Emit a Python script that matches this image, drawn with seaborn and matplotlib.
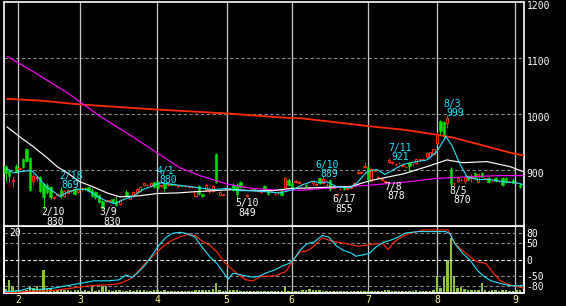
import matplotlib
matplotlib.use("Agg")
import matplotlib.pyplot as plt
import matplotlib.transforms as mtransforms
import numpy as np
import pandas as pd
import seaborn as sns

# ---------------- data ----------------
opens = [907, 899, 881, 908, 902, 919, 937, 922, 880, 885,
         887, 875, 873, 869, 850, 856, 865, 853, 859, 863,
         866, 861, 866, 867, 869, 865, 860, 856, 844, 844,
         845, 848, 844, 840, 848, 861, 849, 854, 860, 863,
         874, 873, 872, 878, 878, 871, 875, 874, 875, 873,
         872, 872, 871, 870, 869, 854, 871, 857, 865, 863,
         862, 929, 855, 855, 866, 868, 874, 874, 878, 869,
         854, 866, 866, 862, 861, 872, 865, 862, 857, 860,
         862, 869, 883, 877, 879, 877, 875, 874, 868, 876,
         874, 885, 877, 873, 882, 868, 856, 866, 867, 866,
         868, 873, 895, 895, 905, 905, 881, 899, 886, 883,
         879, 915, 913, 910, 912, 908, 905, 913, 910, 912,
         918, 919, 924, 925, 928, 949, 987, 985, 984, 902,
         876, 881, 882, 880, 890, 886, 894, 878, 894, 884,
         886, 880, 886, 880, 886, 885, 879, 883, 877, 874]
highs = [909, 901, 889, 910, 905, 921, 939, 924, 893, 890,
         889, 877, 877, 871, 854, 859, 869, 865, 866, 865,
         867, 866, 869, 869, 870, 867, 862, 858, 846, 848,
         847, 849, 853, 848, 850, 865, 852, 863, 868, 871,
         877, 875, 878, 879, 880, 874, 877, 876, 877, 875,
         874, 874, 873, 872, 871, 864, 873, 858, 876, 870,
         873, 931, 862, 858, 868, 870, 876, 876, 880, 871,
         858, 868, 868, 864, 865, 874, 866, 864, 860, 862,
         864, 887, 885, 879, 882, 880, 877, 875, 871, 882,
         877, 886, 889, 876, 884, 871, 858, 868, 869, 868,
         870, 878, 898, 898, 914, 907, 903, 902, 889, 885,
         883, 921, 916, 912, 914, 910, 907, 915, 912, 920,
         920, 921, 932, 933, 938, 967, 989, 987, 999, 906,
         879, 887, 885, 891, 891, 892, 896, 893, 896, 886,
         888, 883, 888, 882, 888, 887, 881, 885, 879, 876]
lows = [880, 879, 869, 895, 900, 903, 914, 863, 873, 881,
        861, 830, 857, 849, 848, 854, 850, 851, 857, 861,
        855, 859, 863, 865, 860, 852, 849, 841, 830, 842,
        843, 841, 835, 838, 847, 852, 848, 852, 857, 861,
        872, 871, 870, 867, 866, 869, 863, 872, 873, 871,
        870, 870, 869, 868, 867, 852, 855, 851, 863, 859,
        860, 876, 853, 854, 864, 866, 863, 849, 867, 867,
        852, 864, 864, 860, 859, 863, 855, 860, 855, 858,
        853, 867, 872, 865, 877, 876, 873, 870, 867, 874,
        873, 875, 875, 872, 863, 867, 855, 864, 865, 864,
        866, 871, 893, 894, 903, 881, 879, 898, 885, 881,
        878, 912, 911, 908, 910, 906, 903, 899, 908, 910,
        916, 917, 922, 923, 926, 947, 965, 957, 975, 870,
        873, 879, 881, 877, 882, 879, 884, 876, 887, 883,
        877, 879, 879, 879, 872, 877, 878, 876, 876, 868]
closes = [895, 890, 882, 897, 904, 905, 916, 865, 890, 888,
          863, 852, 861, 852, 852, 857, 853, 863, 865, 864,
          857, 865, 867, 866, 862, 854, 851, 843, 833, 846,
          845, 843, 837, 846, 849, 854, 851, 861, 866, 869,
          876, 874, 877, 869, 869, 873, 868, 875, 874, 874,
          873, 871, 872, 870, 870, 862, 857, 853, 874, 866,
          871, 878, 860, 857, 867, 867, 865, 857, 869, 870,
          856, 866, 865, 862, 863, 865, 857, 862, 858, 860,
          855, 886, 874, 867, 881, 878, 875, 871, 869, 881,
          875, 877, 884, 874, 866, 869, 857, 866, 866, 867,
          869, 877, 897, 896, 908, 884, 901, 900, 888, 883,
          881, 917, 914, 910, 912, 908, 906, 907, 911, 920,
          919, 920, 931, 932, 937, 965, 969, 960, 992, 875,
          877, 886, 883, 887, 883, 887, 885, 892, 888, 885,
          878, 881, 880, 881, 873, 878, 879, 877, 877, 869]
volumes = [40, 130, 70, 30, 20, 20, 30, 70, 50, 70,
           40, 230, 40, 50, 20, 30, 30, 30, 30, 20,
           30, 30, 20, 30, 20, 70, 20, 30, 70, 70,
           30, 20, 30, 30, 20, 20, 30, 20, 30, 30,
           30, 20, 20, 30, 30, 20, 30, 20, 20, 20,
           20, 20, 20, 20, 20, 30, 30, 30, 30, 30,
           40, 100, 30, 20, 20, 30, 30, 30, 20, 20,
           20, 20, 20, 20, 20, 20, 20, 20, 20, 20,
           20, 70, 20, 20, 20, 20, 30, 30, 40, 30,
           30, 30, 20, 20, 20, 20, 20, 20, 20, 20,
           20, 20, 20, 20, 20, 20, 20, 20, 20, 20,
           30, 30, 20, 20, 20, 20, 20, 20, 20, 30,
           20, 20, 20, 20, 30, 170, 50, 170, 330, 550,
           170, 50, 60, 40, 30, 30, 30, 30, 100, 30,
           20, 30, 30, 20, 30, 30, 20, 20, 30, 30]

ma_short_pos = [0.37, 2.11, 4.14, 7.04, 7.9, 9.93, 11.96, 13.7, 15.7, 17.8,
                20.7, 23.6, 26.5, 29.4, 31.7, 34.0, 36.9, 39.8, 42.7, 44.7,
                47.6, 51.4, 56.3, 60.1, 64.1, 67.9, 71.7, 75.7, 79.5, 83.3,
                86.2, 89.1, 91.1, 93.1, 96.0, 99.8, 101.8, 104.7, 107.6, 109.9,
                111.4, 115.1, 119.2, 122.1, 125.0, 127.6, 129.4, 131.7, 133.7, 136.6,
                140.4, 144.1, 148.2, 149.9]
ma_short_val = [902, 895, 897, 899, 897, 883, 869, 862, 853, 860,
                866, 865, 853, 844, 840, 847, 853, 865, 872, 877,
                875, 872, 868, 865, 867, 863, 863, 861, 859, 865,
                874, 880, 877, 879, 870, 868, 877, 897, 901, 892,
                897, 910, 915, 918, 933, 960, 943, 910, 888, 883,
                883, 879, 877, 874]
ma_mid_pos = [0.37, 4.14, 7.9, 11.96, 14.9, 17.8, 21.5, 25.3, 29.4, 33.1,
              38.9, 43.8, 49.6, 54.3, 60.1, 65.9, 71.7, 77.5, 82.4, 88.2,
              96.0, 99.8, 105.6, 115.2, 122.1, 127.9, 132.5, 139.5, 146.2, 150.0]
ma_mid_val = [977, 959, 942, 922, 906, 895, 879, 870, 859, 852,
              854, 858, 859, 861, 863, 865, 863, 863, 867, 868,
              870, 870, 881, 893, 906, 918, 913, 915, 906, 897]
ma_long_pos = [0.37, 7.9, 17.8, 21.5, 27.3, 36.9, 43.3, 50.5, 56.3, 64.1,
               71.7, 79.5, 86.2, 96.0, 105.6, 115.2, 125.0, 134.6, 143.3, 150.0]
ma_long_val = [1103, 1076, 1038, 1022, 996, 959, 933, 904, 890, 875,
               867, 864, 864, 869, 873, 878, 885, 888, 890, 890]
ma_vlong_pos = [0.37, 10.0, 21.5, 43.8, 64.1, 79.5, 86.2, 96.0, 105.6, 115.2,
                125.0, 129.6, 139.5, 146.2, 150.0]
ma_vlong_val = [1027, 1024, 1017, 1008, 1001, 994, 992, 985, 978, 972,
                963, 958, 942, 931, 926]

rci_short_pos = [-0.1, 2.4, 4.1, 6.7, 8.8, 14.0, 19.2, 23.6, 25.6, 29.6,
                 32.8, 34.9, 36.6, 38.1, 40.4, 42.4, 44.4, 46.5, 48.5, 50.8,
                 52.8, 54.9, 56.9, 59.2, 61.2, 63.3, 64.4, 65.9, 67.6, 69.6,
                 71.7, 73.7, 75.7, 78.0, 80.1, 82.1, 83.3, 85.3, 87.3, 89.4,
                 91.7, 93.7, 95.7, 97.8, 100.1, 101.5, 103.0, 105.3, 107.3, 109.4,
                 111.4, 113.7, 115.7, 117.8, 119.8, 124.1, 127.6, 128.8, 130.2, 132.5,
                 134.6, 136.6, 138.6, 140.7, 143.8, 146.2, 149.1, 150.2]
rci_short_val = [-97, -97, -95, -87, -92, -87, -77, -69, -65, -65,
                 -62, -47, -55, -42, -17, 13, 43, 68, 80, 83,
                 78, 68, 38, 8, -12, -42, -60, -42, -45, -50,
                 -54, -50, -40, -32, -20, -12, -2, 28, 48, 53,
                 73, 68, 43, 28, 20, 10, 13, 18, 38, 52,
                 58, 68, 80, 83, 85, 85, 85, 78, 48, 18,
                 -2, -32, -52, -65, -74, -80, -80, -78]
rci_long_pos = [-0.2, 3.6, 6.7, 14.0, 19.2, 24.4, 29.6, 32.8, 36.0, 38.1,
                40.4, 42.4, 44.4, 46.5, 48.5, 50.8, 52.8, 54.9, 56.9, 59.2,
                61.2, 63.3, 65.3, 67.6, 69.6, 71.7, 73.7, 78.0, 81.2, 83.3,
                85.3, 87.3, 88.5, 91.7, 94.6, 98.9, 102.1, 104.1, 107.3, 109.4,
                110.8, 112.5, 114.6, 116.6, 121.0, 128.2, 130.2, 133.4, 136.6, 139.2,
                140.7, 143.0, 145.2, 147.2, 150.2]
rci_long_val = [-100, -100, -97, -94, -87, -80, -77, -74, -60, -40,
                -12, 8, 28, 48, 60, 70, 76, 73, 56, 43,
                23, -7, -27, -47, -62, -65, -52, -50, -37, -2,
                23, 26, 33, 66, 56, 48, 40, 43, 48, 48,
                30, 53, 68, 78, 90, 90, 48, 18, -7, -12,
                -32, -62, -74, -80, -87]

month_pos = [3.6, 21.6, 43.9, 64.0, 82.9, 105.1, 125.1, 147.6]
month_labels = ["2", "3", "4", "5", "6", "7", "8", "9"]
price_ticks = [900, 1000, 1100, 1200]
rci_ticks = [80, 50, 0, -50, -80]

low_dates = ["2/10", "3/9", "5/10", "6/17", "7/8", "8/5"]
low_values = ["830", "830", "849", "855", "878", "870"]
high_dates = ["2/18", "4/1", "6/10", "7/11", "8/3"]
high_values = ["869", "880", "889", "921", "999"]

# layout of the annotation texts (x index, y price of date line / value line)
low_date_xy = [(13.7, 825.5), (29.6, 825.5), (69.9, 841.6), (98.1, 848.8), (112.3, 870.2), (131.1, 863.0)]
low_val_xy = [(14.3, 807.7), (30.8, 807.7), (69.9, 823.8), (98.1, 831.0), (113.1, 854.1), (132.3, 847.0)]
high_date_xy = [(18.9, 889.8), (46.2, 898.8), (93.1, 909.5), (114.3, 939.8), (129.4, 1018.4)]
high_val_xy = [(18.6, 873.8), (47.0, 882.7), (93.7, 893.4), (114.3, 923.8), (130.2, 1002.3)]

# ---------------- styling ----------------
sns.set_style("dark", {"axes.facecolor": "black", "figure.facecolor": "black"})
plt.rcParams["font.family"] = ["DejaVu Sans Mono", "DejaVu Sans"]

W, H = 566, 306
fig = plt.figure(figsize=(W / 100, H / 100), dpi=100, facecolor="black")

x0, x1 = 4, 524
main_rect = [x0 / W, 1 - 226 / H, (x1 - x0) / W, 224 / H]
low_rect = [x0 / W, 1 - 293 / H, (x1 - x0) / W, 67 / H]

ax_vol = fig.add_axes(low_rect, zorder=1)
ax_low = fig.add_axes(low_rect, zorder=2)
ax = fig.add_axes(main_rect, zorder=3)

RED = "#ff2a00"
GREEN = "#00dd00"
CYAN = "#22e4ff"
MAG = "#ff00ff"
VOLC = "#8cc43c"
GRID = "#8a8a8a"
VLINE = "#c8c8c8"
YEL = "#ffff90"
FS = 7

n = len(closes)
idx = np.arange(n)
xlim = (-0.5, -0.5 + (x1 - x0) / 3.45)

for a in (ax, ax_low, ax_vol):
    a.set_xlim(*xlim)
    a.set_facecolor("black")
    for s in a.spines.values():
        s.set_color("white")
        s.set_linewidth(1.2)
ax_low.set_facecolor("none")

# ---------- main panel ----------
ax.set_ylim(800, 1200)
for p in [900, 1000, 1100]:
    ax.axhline(p, color=GRID, lw=0.8, dashes=(3, 2.2), zorder=1)
for m in month_pos:
    ax.axvline(m, color=VLINE, lw=0.9, zorder=1)

o = np.array(opens); c = np.array(closes); h = np.array(highs); l = np.array(lows)
up = c >= o
dn = ~up
ax.vlines(idx[up], l[up], h[up], color=RED, lw=0.75, zorder=3)
ax.vlines(idx[dn], l[dn], h[dn], color=GREEN, lw=0.75, zorder=3)
body_lo = np.minimum(o, c)
body_h = np.maximum(np.abs(c - o), 0.6)
ax.bar(idx[up], body_h[up], bottom=body_lo[up], width=0.6, facecolor="black",
       edgecolor=RED, linewidth=0.75, zorder=3)
ax.bar(idx[dn], body_h[dn], bottom=body_lo[dn], width=0.72, facecolor=GREEN,
       edgecolor=GREEN, linewidth=0.4, zorder=3)

sns.lineplot(x=ma_vlong_pos, y=ma_vlong_val, ax=ax, color=RED, lw=1.3, zorder=4, estimator=None)
sns.lineplot(x=ma_long_pos, y=ma_long_val, ax=ax, color=MAG, lw=0.85, zorder=4, estimator=None)
sns.lineplot(x=ma_mid_pos, y=ma_mid_val, ax=ax, color="white", lw=0.85, zorder=4, estimator=None)
sns.lineplot(x=ma_short_pos, y=ma_short_val, ax=ax, color=CYAN, lw=0.8, zorder=4, estimator=None)

for (t, (tx, ty)) in zip(low_dates, low_date_xy):
    ax.text(tx, ty, t, color="white", fontsize=FS, ha="center", va="center", zorder=6)
for (t, (tx, ty)) in zip(low_values, low_val_xy):
    ax.text(tx, ty, t, color="white", fontsize=FS, ha="center", va="center", zorder=6)
for (t, (tx, ty)) in zip(high_dates, high_date_xy):
    ax.text(tx, ty, t, color=CYAN, fontsize=FS, ha="center", va="center", zorder=6)
for (t, (tx, ty)) in zip(high_values, high_val_xy):
    ax.text(tx, ty, t, color=CYAN, fontsize=FS, ha="center", va="center", zorder=6)

ax.yaxis.tick_right()
ax.set_yticks(price_ticks)
ax.set_yticklabels([str(p) for p in price_ticks])
ax.tick_params(axis="y", length=0, pad=2, colors="white", labelsize=FS)
shift = mtransforms.ScaledTranslation(0, -3 / 100, fig.dpi_scale_trans)
for lab in ax.get_yticklabels():
    lab.set_transform(lab.get_transform() + shift)
ax.set_xticks([])
ax.set_xlabel(""); ax.set_ylabel("")

# ---------- volume ----------
ax_vol.set_ylim(0, 670)
ax_vol.bar(idx, volumes, width=0.7, color=VOLC, linewidth=0, zorder=2)
ax_vol.set_xticks([]); ax_vol.set_yticks([])
for m in month_pos:
    ax_vol.axvline(m, color=VLINE, lw=0.9, zorder=1)

# ---------- RCI panel ----------
ax_low.set_ylim(-102, 102)
for v in [80, 50, -50, -80]:
    ax_low.axhline(v, color=GRID, lw=0.8, dashes=(3, 2.2), zorder=1)
ax_low.axhline(0, color="white", lw=0.8, dashes=(3, 2.2), zorder=1)
sns.lineplot(x=rci_long_pos, y=rci_long_val, ax=ax_low, color=RED, lw=0.85, zorder=3, estimator=None)
sns.lineplot(x=rci_short_pos, y=rci_short_val, ax=ax_low, color=CYAN, lw=0.8, zorder=3, estimator=None)
ax_low.text(0.01, 0.9, "20", transform=ax_low.transAxes, color="white",
            fontsize=FS, ha="left", va="center")
ax_low.yaxis.tick_right()
ax_low.set_yticks(rci_ticks)
ax_low.set_yticklabels([str(v) for v in rci_ticks])
ax_low.tick_params(axis="y", length=0, pad=2, colors="white", labelsize=FS)
ax_low.set_xticks(month_pos)
ax_low.set_xticklabels(month_labels)
ax_low.tick_params(axis="x", length=0, pad=1.5, colors=YEL, labelsize=FS)
ax_low.set_xlabel(""); ax_low.set_ylabel("")
ax_low.set_xlim(*xlim)
ax.set_xlim(*xlim)

fig.savefig("out.png", dpi=100, facecolor="black")
